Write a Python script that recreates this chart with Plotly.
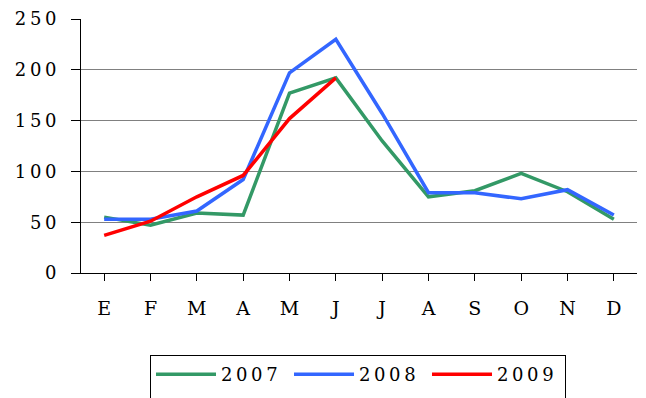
import plotly.graph_objects as go

months = ["E", "F", "M", "A", "M", "J", "J", "A", "S", "O", "N", "D"]
s2007 = [55, 47, 59, 57, 177, 192, 130, 75, 81, 98, 80, 53]
s2008 = [53, 53, 61, 92, 197, 230, 157, 79, 79, 73, 82, 57]
s2009 = [37, 51, 75, 96, 152, 192]
yticks = [0, 50, 100, 150, 200, 250]

SP = "\u2009"
FONT = "DejaVu Serif"

x = list(range(len(months)))

fig = go.Figure()
for name, vals, col in [("2007", s2007, "#339966"), ("2008", s2008, "#3366FF"), ("2009", s2009, "#FF0000")]:
    fig.add_trace(go.Scatter(
        x=x[:len(vals)], y=vals, mode="lines", name=SP.join(name) + "<br> ",
        line=dict(color=col, width=3.5),
    ))

# page body has an 8px default margin, so the figure is sized/offset to compensate
fig.update_layout(
    width=638, height=390,
    margin=dict(l=73, r=9, t=11, b=125),
    paper_bgcolor="white", plot_bgcolor="white",
    font=dict(family=FONT, size=18, color="black"),
    showlegend=True,
    legend=dict(
        orientation="h", xref="container", yref="container",
        xanchor="center", x=0.5486, yanchor="top", y=0.110,
        bordercolor="black", borderwidth=1, font=dict(family=FONT, size=18),
        entrywidth=63, entrywidthmode="pixels", itemwidth=60, valign="top",
    ),
)
fig.update_xaxes(
    tickmode="array", tickvals=x, ticktext=months,
    range=[-0.5, 11.5], tickson="boundaries", ticks="outside", ticklen=7,
    tickcolor="black", showline=True, linecolor="black", linewidth=1,
    showgrid=False, zeroline=False, ticklabelstandoff=11, automargin=False,
    tickfont=dict(family=FONT, size=19),
)
fig.update_yaxes(
    tickmode="array", tickvals=yticks, ticktext=[SP.join(str(v)) for v in yticks],
    range=[0, 250], ticks="outside", ticklen=9, tickcolor="black",
    showline=True, linecolor="black", linewidth=1,
    showgrid=True, gridcolor="#808080", gridwidth=1, zeroline=False,
    ticklabelstandoff=11, automargin=False,
)
fig.write_html("out.html")
